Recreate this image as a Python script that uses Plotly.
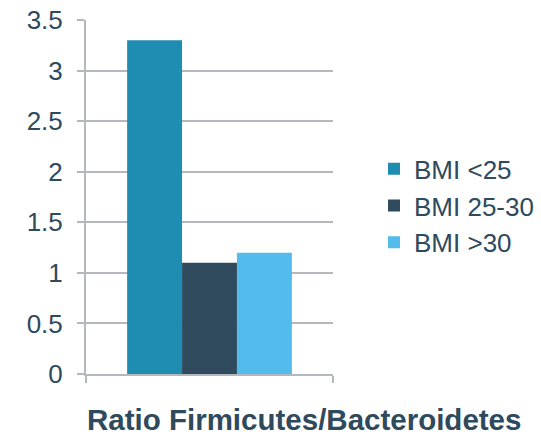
import plotly.graph_objects as go

# Firmicutes/Bacteroidetes ratio by BMI group
category = ["Ratio Firmicutes/Bacteroidetes"]
groups = ["BMI <25", "BMI 25-30", "BMI >30"]
ratios = [3.3, 1.1, 1.2]
colors = ["#1F8DB2", "#2F4B5D", "#53BCEC"]

text_color = "#2E4A5C"
grid_color = "#B4B8BC"

fig = go.Figure()
for name, val, col in zip(groups, ratios, colors):
    fig.add_trace(go.Bar(
        x=category, y=[val], name=name,
        marker=dict(color=col, line=dict(width=0)),
    ))

fig.update_layout(
    width=541, height=435,
    margin=dict(l=86, r=208, t=20, b=61, autoexpand=False),
    paper_bgcolor="white", plot_bgcolor="white",
    barmode="group", bargap=0.333, bargroupgap=0,
    font=dict(family="Liberation Sans, Arial, sans-serif", color=text_color, size=26),
    legend=dict(
        x=1.166, y=0.475, xanchor="left", yanchor="middle",
        font=dict(size=26, color=text_color),
        itemwidth=30, tracegroupgap=0,
        bgcolor="rgba(0,0,0,0)",
    ),
    showlegend=True,
)

fig.update_xaxes(
    range=[-0.5, 0.5],
    showticklabels=False,
    showgrid=False,
    showline=True, linecolor=grid_color, linewidth=2,
    ticks="outside", tickson="boundaries", ticklen=7, tickcolor=grid_color, tickwidth=2,
    zeroline=False,
)
fig.update_yaxes(
    range=[0, 3.5], dtick=0.5, tick0=0,
    showgrid=True, gridcolor=grid_color, gridwidth=1.5,
    showline=True, linecolor=grid_color, linewidth=2,
    ticks="outside", ticklen=7, tickcolor=grid_color, tickwidth=1.5,
    ticklabelstandoff=9,
    tickfont=dict(size=26, color=text_color),
    zeroline=False,
)

fig.add_annotation(
    text="<b>Ratio Firmicutes/Bacteroidetes</b>",
    xref="paper", yref="paper", x=0.883, y=0,
    xanchor="center", yanchor="middle", yshift=-45,
    height=30, valign="middle", borderpad=0,
    showarrow=False,
    font=dict(size=29.5, color=text_color),
)

fig.write_html("out.html")
